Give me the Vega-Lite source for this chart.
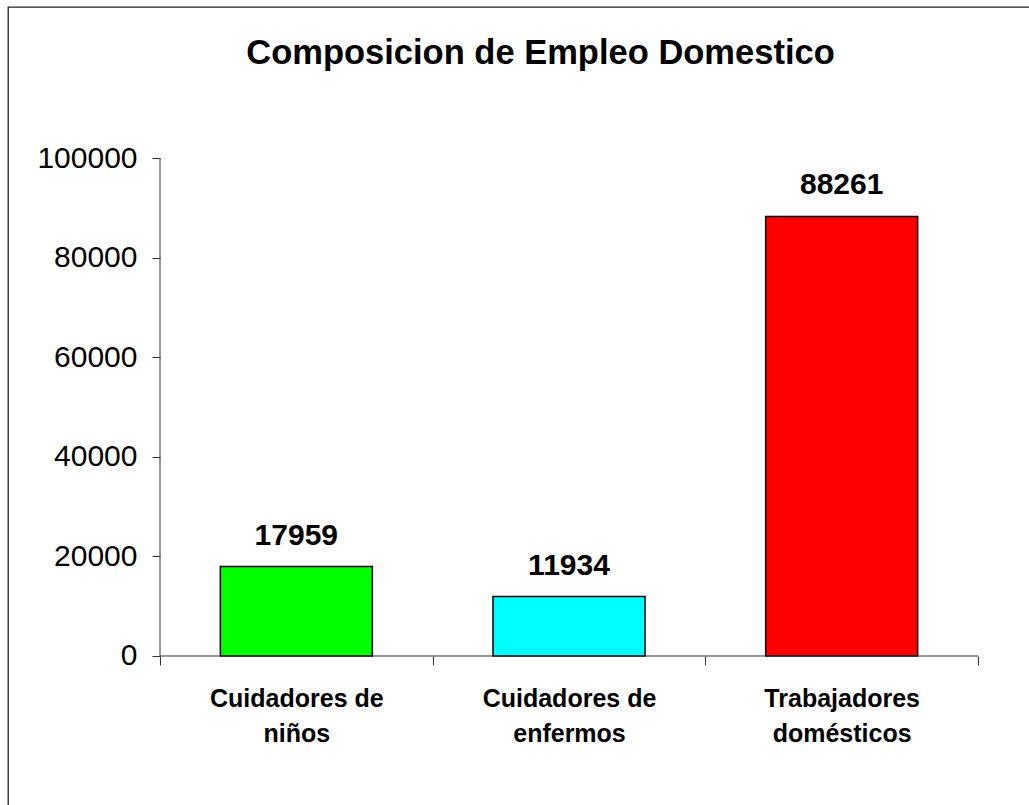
{
  "$schema": "https://vega.github.io/schema/vega-lite/v6.json",
  "autosize": {"type": "none"},
  "padding": {"left": 8, "top": 7, "right": 0, "bottom": 0},
  "width": 1021,
  "height": 798,
  "background": "white",
  "title": {
    "text": "Composicion de Empleo Domestico",
    "font": "Liberation Sans",
    "fontSize": 34.5,
    "fontWeight": "bold",
    "color": "#000000",
    "anchor": "middle",
    "frame": "group",
    "baseline": "alphabetic",
    "offset": -58,
    "dx": 22,
    "dy": 33
  },
  "config": {
    "view": {"stroke": "#222222", "strokeWidth": 1.3, "strokeDash": [1021, 1819, 798, 1]},
    "font": "Liberation Sans"
  },
  "data": {
    "values": [
      {"categoria": "Cuidadores de niños", "empleo": 17959},
      {"categoria": "Cuidadores de enfermos", "empleo": 11934},
      {"categoria": "Trabajadores domésticos", "empleo": 88261}
    ]
  },
  "encoding": {
    "x": {
      "field": "categoria",
      "type": "nominal",
      "sort": null,
      "scale": {"paddingInner": 0, "paddingOuter": 0.37225, "align": 0.74877},
      "axis": {
        "title": null,
        "orient": "bottom",
        "offset": -149,
        "domain": false,
        "tickBand": "extent",
        "tickSize": 9,
        "tickColor": "#333333",
        "tickWidth": 1,
        "grid": false,
        "labelFont": "Liberation Sans",
        "labelFontSize": 25,
        "labelFontWeight": "bold",
        "labelColor": "#000000",
        "labelAngle": 0,
        "labelPadding": 21,
        "labelLineHeight": 35,
        "labelBaseline": "top",
        "labelLimit": 0,
        "labelOverlap": false,
        "labelExpr": "isString(datum.value) && indexof(datum.value, ' ') >= 0 ? [substring(datum.value, 0, lastindexof(datum.value, ' ')), substring(datum.value, lastindexof(datum.value, ' ') + 1)] : ''"
      }
    },
    "y": {
      "field": "empleo",
      "type": "quantitative",
      "scale": {"domain": [-29919.7, 130321.3], "nice": false, "zero": false},
      "axis": {
        "title": null,
        "orient": "left",
        "offset": -152,
        "domain": false,
        "values": [0, 20000, 40000, 60000, 80000, 100000],
        "format": "d",
        "grid": false,
        "tickSize": 8,
        "tickColor": "#333333",
        "tickWidth": 1,
        "labelFont": "Liberation Sans",
        "labelFontSize": 30,
        "labelFontWeight": "normal",
        "labelColor": "#000000",
        "labelPadding": 15,
        "labelBaseline": "middle",
        "labelFlush": false,
        "labelOverlap": false
      }
    }
  },
  "layer": [
    {
      "mark": {"type": "bar", "size": 152, "stroke": "#000000", "strokeWidth": 1.5},
      "encoding": {
        "y2": {"datum": 0},
        "color": {
          "field": "categoria",
          "type": "nominal",
          "scale": {
            "domain": ["Cuidadores de niños", "Cuidadores de enfermos", "Trabajadores domésticos"],
            "range": ["#00FF00", "#00FFFF", "#FF0000"]
          },
          "legend": null
        }
      }
    },
    {
      "mark": {"type": "rule", "color": "#333333", "strokeWidth": 1},
      "encoding": {
        "x": {"field": "categoria", "type": "nominal", "sort": null, "bandPosition": 0},
        "x2": {"field": "categoria", "bandPosition": 1},
        "y": {"datum": 0}
      }
    },
    {
      "transform": [{"filter": "datum.categoria == 'Cuidadores de niños'"}],
      "mark": {"type": "rule", "color": "#333333", "strokeWidth": 1},
      "encoding": {
        "x": {"field": "categoria", "type": "nominal", "sort": null, "bandPosition": 0},
        "y": {"datum": 0},
        "y2": {"datum": 100000}
      }
    },
    {
      "mark": {
        "type": "text",
        "font": "Liberation Sans",
        "fontSize": 30,
        "fontWeight": "bold",
        "color": "#000000",
        "baseline": "alphabetic",
        "align": "center",
        "dy": -22
      },
      "encoding": {
        "text": {"field": "empleo", "type": "quantitative", "format": "d"}
      }
    }
  ]
}
